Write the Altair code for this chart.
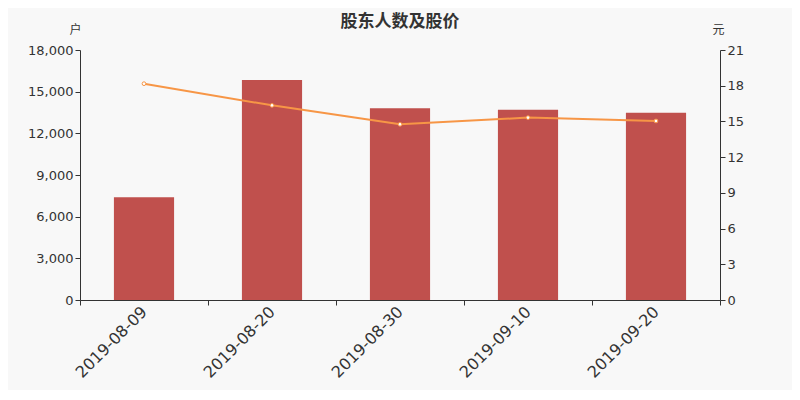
import altair as alt
import pandas as pd

dates = ["2019-08-09", "2019-08-20", "2019-08-30", "2019-09-10", "2019-09-20"]
holders = [7400, 15840, 13800, 13700, 13480]
prices = [18.17, 16.35, 14.76, 15.32, 15.04]

df = pd.DataFrame({"date": dates, "holders": holders, "price": prices})

FONT = "DejaVu Sans"
x = alt.X(
    "date:N",
    sort=None,
    scale=alt.Scale(paddingInner=0, paddingOuter=0),
    axis=alt.Axis(
        title=None,
        labelAngle=-45,
        labelAlign="right",
        labelBaseline="middle",
        labelFontSize=16,
        labelColor="#333333",
        labelFont=FONT,
        labelPadding=4,
        tickBand="extent",
        tickSize=5,
        tickColor="#333333",
        domainColor="#333333",
        grid=False,
    ),
)

bars = alt.Chart(df).mark_bar(color="#c0504d", width=alt.RelativeBandSize(0.47)).encode(
    x=x,
    y=alt.Y(
        "holders:Q",
        scale=alt.Scale(domain=[0, 18000], nice=False),
        axis=alt.Axis(
            title="户",
            titleAngle=0,
            titleX=-5,
            titleY=-14,
            titleFont="Noto Sans CJK SC",
            titleFontSize=12,
            titleFontWeight="normal",
            titleColor="#333333",
            titleAlign="center",
            values=[0, 3000, 6000, 9000, 12000, 15000, 18000],
            format=",d",
            labelFont=FONT,
            labelFontSize=13,
            labelColor="#333333",
            tickSize=5,
            tickColor="#333333",
            domainColor="#333333",
            grid=False,
        ),
    ),
)

line = alt.Chart(df).mark_line(
    color="#f79646", strokeWidth=2,
    point=alt.OverlayMarkDef(filled=True, fill="white", stroke="#f79646", strokeWidth=1, size=14),
).encode(
    x=x,
    y=alt.Y(
        "price:Q",
        scale=alt.Scale(domain=[0, 21], nice=False),
        axis=alt.Axis(
            orient="right",
            title="元",
            titleAngle=0,
            titleX=-2,
            titleY=-14,
            titleFont="Noto Sans CJK SC",
            titleFontSize=12,
            titleFontWeight="normal",
            titleColor="#333333",
            titleAlign="center",
            values=[0, 3, 6, 9, 12, 15, 18, 21],
            labelFont=FONT,
            labelFontSize=13,
            labelColor="#333333",
            tickSize=5,
            tickColor="#333333",
            domainColor="#333333",
            grid=False,
        ),
    ),
)

chart = alt.layer(bars, line).resolve_scale(y="independent").properties(
    width=640,
    height=250,
    background="#f8f8f8",
    padding={"left": 72, "top": 42, "right": 72, "bottom": 90},
    autosize=alt.AutoSizeParams(type="none"),
    title=alt.TitleParams(
        "股东人数及股价",
        font="Noto Sans CJK SC",
        fontSize=17,
        fontWeight="bold",
        color="#333333",
        anchor="middle",
        offset=-8,
    ),
).configure_view(stroke=None)

chart.save("out.html", embed_options={"renderer": "svg", "actions": False})
